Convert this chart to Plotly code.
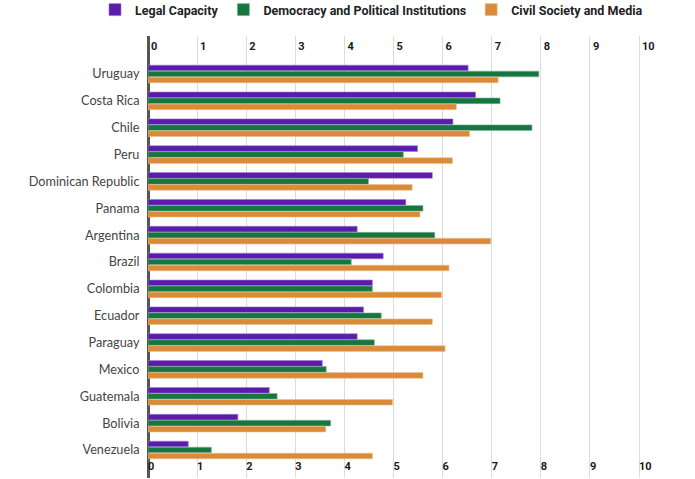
import plotly.graph_objects as go

countries = ["Uruguay", "Costa Rica", "Chile", "Peru", "Dominican Republic", "Panama",
             "Argentina", "Brazil", "Colombia", "Ecuador", "Paraguay", "Mexico",
             "Guatemala", "Bolivia", "Venezuela"]
legal_capacity = [6.52, 6.67, 6.21, 5.49, 5.79, 5.25, 4.26, 4.79, 4.57, 4.39, 4.26, 3.55, 2.47, 1.83, 0.82]
democracy = [7.96, 7.17, 7.82, 5.20, 4.49, 5.60, 5.84, 4.14, 4.57, 4.75, 4.61, 3.63, 2.63, 3.72, 1.29]
civil_society = [7.13, 6.28, 6.55, 6.20, 5.38, 5.54, 6.98, 6.13, 5.98, 5.79, 6.05, 5.60, 4.98, 3.62, 4.57]

series_names = ["Legal Capacity", "Democracy and Political Institutions", "Civil Society and Media"]
series_values = [legal_capacity, democracy, civil_society]
colors = ["#5B1BAB", "#177540", "#D98B39"]
edge_colors = ["#9C7BD0", "#7FB497", "#EDC08F"]

tick_vals = list(range(0, 11))
tick_labels = [str(v) for v in tick_vals]

fig = go.Figure()
for name, vals, c, ec in zip(series_names, series_values, colors, edge_colors):
    fig.add_trace(go.Bar(
        x=vals, y=countries, orientation="h", name=name,
        marker=dict(color=c, line=dict(color=ec, width=0.6)),
    ))

W, H = 695, 479
left, right_px, top, bottom_px = 148, 665, 36, 478
pw, ph = right_px - left, bottom_px - top
xmax = (right_px - left) / 49.1
n = len(countries)
sp = 26.86
y_top = -(74 - top) / sp
y_bot = (n - 1) + (bottom_px - 450) / sp

tickfont = dict(family="Roboto", size=11, color="#1a1a1a", weight="bold")

fig.update_layout(
    width=W, height=H,
    margin=dict(l=left, r=W - right_px, t=top, b=H - bottom_px, pad=0, autoexpand=False),
    paper_bgcolor="white", plot_bgcolor="white",
    barmode="group", bargap=0.33, bargroupgap=0.06,
    showlegend=True,
    legend=dict(
        orientation="h",
        x=(95 - left) / pw, xanchor="left",
        y=1 + (top - 10) / ph, yanchor="middle",
        font=dict(family="Roboto", size=12.5, color="#222", weight="bold"),
        traceorder="normal", bgcolor="rgba(0,0,0,0)",
    ),
    xaxis=dict(
        range=[0, xmax], tickvals=tick_vals, ticktext=tick_labels,
        side="bottom", ticklabelposition="inside right", automargin=False,
        showgrid=True, gridcolor="#dcdcdc", gridwidth=1.2,
        zeroline=True, zerolinecolor="#555555", zerolinewidth=2.5,
        showline=False, ticks="", tickfont=tickfont,
    ),
    xaxis2=dict(
        range=[0, xmax], tickvals=tick_vals, ticktext=tick_labels,
        overlaying="x", side="top", matches="x", ticklabelposition="inside right",
        automargin=False, ticklabelshift=3,
        showgrid=False, zeroline=False, showline=False, ticks="", tickfont=tickfont,
    ),
    yaxis=dict(
        range=[y_bot, y_top], type="category", automargin=False,
        showgrid=False, zeroline=False, showline=False,
        ticks="outside", ticklen=5, tickcolor="rgba(0,0,0,0)",
        tickfont=dict(family="Lato", size=12.7, color="#444"),
    ),
)

fig.add_trace(go.Scatter(x=[0, xmax], y=[countries[0], countries[0]], xaxis="x2",
                         mode="markers", marker=dict(opacity=0), showlegend=False,
                         hoverinfo="skip"))

fig.write_html("out.html", config={"displayModeBar": False},
               post_script="document.body.style.margin='0';")
